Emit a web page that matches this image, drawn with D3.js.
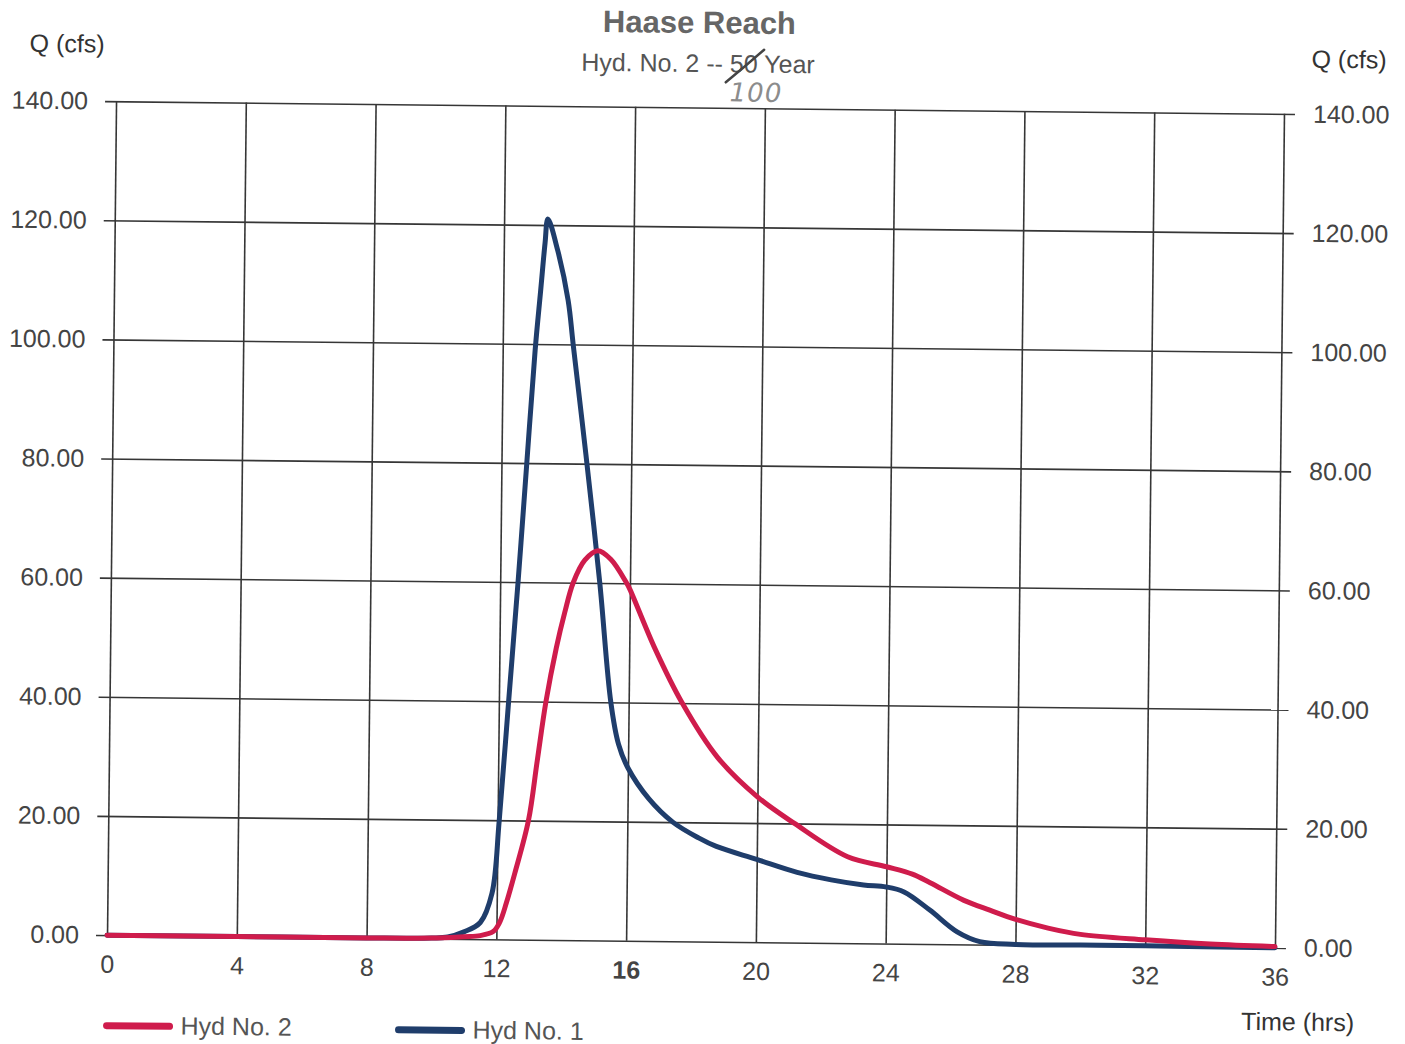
<!DOCTYPE html>
<html>
<head>
<meta charset="utf-8">
<title>Haase Reach</title>
<script src="https://cdn.jsdelivr.net/npm/d3@7"></script>
<style>
  body { margin: 0; background: #fff; }
  svg { display: block; font-family: "Liberation Sans", Arial, sans-serif; }
  .grid line { stroke: #363636; stroke-width: 1.6; }
  .grid path, .labels path { display: none; }
  .labels text { font-size: 25px; fill: #444; font-family: "Liberation Sans", Arial, sans-serif; }
</style>
</head>
<body>
<div id="chart"></div>
<script>
// hydrograph ordinates (hrs, cfs)
const hyd1Time = [0, 4, 8, 10, 10.5, 11, 11.5, 11.85, 12.05, 12.3, 12.55, 12.78, 13.0, 13.15, 13.27, 13.35,
  13.66, 14.0, 14.17, 14.6, 15.07, 15.45, 15.7, 16.0, 16.65, 17.4, 18.2, 18.75, 20, 21.25, 22.3, 23.3, 24,
  24.55, 25.35, 26.2, 26.9, 28, 30, 32, 36];
const hyd1Q = [0, 0, 0, 0.1, 0.3, 1.2, 2.8, 7.7, 20, 40, 60, 80, 99, 109, 117, 121,
  115.8, 107.4, 100, 81.5, 60, 40, 33, 29, 23.9, 20, 17.4, 16, 13.9, 11.8, 10.6, 9.8, 9.5,
  8.7, 5.7, 2.1, 0.5, 0.1, 0.1, 0.1, 0];

const hyd2Time = [0, 4, 8, 10, 11, 11.5, 11.9, 12.1, 12.3, 12.55, 12.95, 13.2, 13.45, 13.75, 14.0, 14.25, 14.6, 15.0,
  15.4, 15.9, 16.0, 16.8, 17.65, 18.75, 20, 21.15, 22.8, 24, 24.8, 25.35, 26.4, 27.2, 28, 29, 30, 32, 34, 36];
const hyd2Q = [0, 0, 0, 0.1, 0.4, 0.6, 1.3, 2.9, 6.2, 11.2, 20, 30, 40, 49, 55, 60, 63.8, 65.4,
  64.0, 60, 59, 49, 40, 31, 24.4, 20, 14.5, 12.9, 11.7, 10.3, 7.4, 5.8, 4.3, 2.9, 1.9, 1.1, 0.5, 0.2];

const timeTicks = [0, 4, 8, 12, 16, 20, 24, 28, 32, 36];
const qTicks = [0, 20, 40, 60, 80, 100, 120, 140];

const titleText = "Haase Reach";
const subtitleText = "Hyd. No. 2 -- 50 Year";
const legendNames = ["Hyd No. 2", "Hyd No. 1"];

const W = 1405, H = 1044;
const margin = {top: 107.5, left: 111.5};
const width = 1168, height = 834;
const red = "#cf1c4c", blue = "#1f3d6b";
// the sheet went through the scanner a little crooked
const tilt = 0.62;

const svg = d3.select("#chart").append("svg")
    .attr("width", W)
    .attr("height", H);

svg.append("rect")
    .attr("width", W)
    .attr("height", H)
    .attr("fill", "#fff");

const page = svg.append("g")
    .attr("transform", "rotate(" + tilt + ",695.5,524.5)");

const chart = page.append("g")
    .attr("transform", "translate(" + margin.left + "," + margin.top + ")");

const x = d3.scaleLinear().domain([0, 36]).range([0, width]);
const y = d3.scaleLinear().domain([0, 140]).range([height, 0]);

// horizontal grid, sticking out a bit on both sides like tick marks
chart.append("g")
    .attr("class", "grid")
    .attr("transform", "translate(-11,0)")
    .call(d3.axisRight(y).tickValues(qTicks).tickSize(width + 22).tickFormat(""));

chart.append("g")
    .attr("class", "grid")
    .attr("transform", "translate(0," + height + ")")
    .call(d3.axisBottom(x).tickValues(timeTicks).tickSize(-height).tickFormat(""));

// tick labels
chart.append("g")
    .attr("class", "labels")
    .call(d3.axisLeft(y).tickValues(qTicks).tickSize(0).tickPadding(28).tickFormat(d3.format(".2f")));

chart.append("g")
    .attr("class", "labels")
    .attr("transform", "translate(" + width + ",0)")
    .call(d3.axisRight(y).tickValues(qTicks).tickSize(0).tickPadding(29).tickFormat(d3.format(".2f")));

chart.append("g")
    .attr("class", "labels")
    .attr("transform", "translate(0," + height + ")")
    .call(d3.axisBottom(x).tickValues(timeTicks).tickSize(0).tickPadding(20))
    .selectAll("text")
    .attr("fill", d => (d === 8 || d === 16 || d === 32 || d === 36) ? "#2a2a2a" : "#555")
    .attr("font-weight", d => d === 16 ? "bold" : null);

const line = d3.line()
    .x(d => x(d[0]))
    .y(d => y(d[1]))
    .curve(d3.curveCatmullRom.alpha(0.5));

const hyd1 = hyd1Time.map((t, i) => [t, hyd1Q[i]]);
const hyd2 = hyd2Time.map((t, i) => [t, hyd2Q[i]]);

chart.append("path")
    .datum(hyd1)
    .attr("fill", "none")
    .attr("stroke", blue)
    .attr("stroke-width", 5)
    .attr("stroke-linejoin", "round")
    .attr("stroke-linecap", "round")
    .attr("d", line);

chart.append("path")
    .datum(hyd2)
    .attr("fill", "none")
    .attr("stroke", red)
    .attr("stroke-width", 5)
    .attr("stroke-linejoin", "round")
    .attr("stroke-linecap", "round")
    .attr("d", line);

// titles
page.append("text")
    .attr("x", 694)
    .attr("y", 33)
    .attr("text-anchor", "middle")
    .attr("font-size", 31)
    .attr("font-weight", "bold")
    .attr("fill", "#666")
    .text(titleText);

page.append("text")
    .attr("x", 693)
    .attr("y", 72)
    .attr("text-anchor", "middle")
    .attr("font-size", 25)
    .attr("fill", "#555")
    .text(subtitleText);

// pencil correction over the return period
page.append("path")
    .attr("d", "M721,82 Q740,66 759,49")
    .attr("fill", "none")
    .attr("stroke", "#444")
    .attr("stroke-width", 2.5)
    .attr("stroke-linecap", "round");

page.append("text")
    .attr("x", 725)
    .attr("y", 101)
    .attr("font-size", 26)
    .attr("font-style", "italic")
    .attr("font-family", "DejaVu Sans, sans-serif")
    .attr("letter-spacing", 1)
    .attr("fill", "#8c8c8c")
    .text("100");

page.append("text")
    .attr("x", 62)
    .attr("y", 59)
    .attr("text-anchor", "middle")
    .attr("font-size", 25)
    .attr("fill", "#333")
    .text("Q (cfs)");

page.append("text")
    .attr("x", 1344)
    .attr("y", 61)
    .attr("text-anchor", "middle")
    .attr("font-size", 25)
    .attr("fill", "#333")
    .text("Q (cfs)");

page.append("text")
    .attr("x", 1303)
    .attr("y", 1024)
    .attr("text-anchor", "middle")
    .attr("font-size", 25)
    .attr("fill", "#333")
    .text("Time (hrs)");

// legend
const legend = page.append("g");
const legendX = [112, 404];
const legendColors = [red, blue];

legendNames.forEach((name, i) => {
  legend.append("line")
      .attr("x1", legendX[i])
      .attr("x2", legendX[i] + 63)
      .attr("y1", 1032 + i)
      .attr("y2", 1032 + i)
      .attr("stroke", legendColors[i])
      .attr("stroke-width", 7)
      .attr("stroke-linecap", "round");
  legend.append("text")
      .attr("x", legendX[i] + 74)
      .attr("y", 1040 + i)
      .attr("font-size", 25)
      .attr("fill", "#555")
      .text(name);
});
</script>
</body>
</html>
